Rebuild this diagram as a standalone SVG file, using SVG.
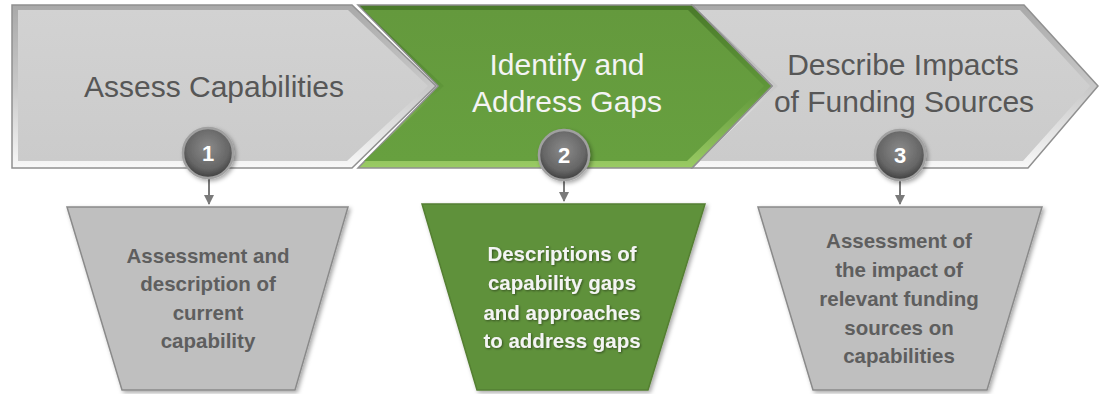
<svg xmlns="http://www.w3.org/2000/svg" width="1099" height="394" viewBox="0 0 1099 394">
  <defs>
    <linearGradient id="grayBevel" x1="0" y1="0" x2="0" y2="1">
      <stop offset="0" stop-color="#a9a9a9"/>
      <stop offset="0.5" stop-color="#c8c8c8"/>
      <stop offset="1" stop-color="#f8f8f8"/>
    </linearGradient>
    <linearGradient id="grayFace" x1="0" y1="0" x2="0" y2="1">
      <stop offset="0" stop-color="#d2d2d2"/>
      <stop offset="1" stop-color="#cbcbcb"/>
    </linearGradient>
    <linearGradient id="greenBevel" x1="0" y1="0" x2="0" y2="1">
      <stop offset="0" stop-color="#4a7a2a"/>
      <stop offset="0.5" stop-color="#5f9639"/>
      <stop offset="1" stop-color="#9acb64"/>
    </linearGradient>
    <linearGradient id="greenFace" x1="0" y1="0" x2="0" y2="1">
      <stop offset="0" stop-color="#64993d"/>
      <stop offset="1" stop-color="#67a03f"/>
    </linearGradient>
    <radialGradient id="ball" cx="0.5" cy="0.4" r="0.6">
      <stop offset="0" stop-color="#8a8a8a"/>
      <stop offset="0.7" stop-color="#666666"/>
      <stop offset="1" stop-color="#3e3e3e"/>
    </radialGradient>
    <filter id="shadow" x="-10%" y="-10%" width="125%" height="125%">
      <feDropShadow dx="2" dy="2" stdDeviation="2" flood-color="#000" flood-opacity="0.35"/>
    </filter>
    <filter id="tshadow" x="-10%" y="-20%" width="120%" height="150%">
      <feDropShadow dx="1" dy="1" stdDeviation="0.8" flood-color="#000" flood-opacity="0.45"/>
    </filter>
    <marker id="arrow" viewBox="0 0 10 10" refX="9" refY="5" markerWidth="5" markerHeight="5" orient="auto" markerUnits="strokeWidth">
      <path d="M0,0 L10,5 L0,10 z" fill="#7a7a7a"/>
    </marker>
  </defs>
  <style>
    .title { font-family: "Liberation Sans", Arial, sans-serif; font-size: 30px; text-anchor: middle; }
    .gtitle { fill: #575757; }
    .wtitle { fill: #f4f4f4; }
    .body { font-family: "Liberation Sans", Arial, sans-serif; font-size: 20.5px; font-weight: bold; text-anchor: middle; }
    .gbody { fill: #5e5e5e; }
    .wbody { fill: #f4f4f4; }
    .num { font-family: "Liberation Sans", Arial, sans-serif; font-size: 22px; font-weight: bold; fill: #ffffff; text-anchor: middle; }
    .ring { fill: url(#ball); stroke: #a0a0a0; stroke-width: 2.5; }
    .conn { stroke: #7a7a7a; stroke-width: 2; fill: none; }
    .outline { stroke: #909090; stroke-width: 1.5; }
  </style>

  <g id="step3">
    <polygon class="outline" points="692,5 1024,5 1098,86 1028,168 692,168 772,86" fill="url(#grayBevel)"/>
    <polygon points="698,10 1020,10 1090,86 1023,161 698,161 778,86" fill="url(#grayFace)"/>
    <text class="title gtitle" x="903" y="75">Describe Impacts</text>
    <text class="title gtitle" x="904" y="112">of Funding Sources</text>
  </g>

  <g id="step2">
    <polygon class="outline" points="358,5 692,5 772,86 692,168 358,168 438,86" fill="url(#greenBevel)"/>
    <polygon points="364,10 688,10 764,86 687,161 364,161 444,86" fill="url(#greenFace)"/>
    <text class="title wtitle" x="567" y="75">Identify and</text>
    <text class="title wtitle" x="567" y="112">Address Gaps</text>
  </g>

  <g id="step1">
    <polygon class="outline" points="12,5 352,5 436,86 352,168 12,168" fill="url(#grayBevel)"/>
    <polygon points="18,10 348,10 428,86 347,161 18,161" fill="url(#grayFace)"/>
    <text class="title gtitle" x="214" y="97">Assess Capabilities</text>
  </g>

  <g id="connectors">
    <line class="conn" x1="209" y1="179" x2="209" y2="204" marker-end="url(#arrow)"/>
    <line class="conn" x1="564" y1="180" x2="564" y2="201" marker-end="url(#arrow)"/>
    <line class="conn" x1="900" y1="180" x2="900" y2="204" marker-end="url(#arrow)"/>
  </g>

  <g id="badge1">
    <circle class="ring" cx="208" cy="153" r="25" filter="url(#shadow)"/>
    <text class="num" x="208" y="161">1</text>
  </g>
  <g id="badge2">
    <circle class="ring" cx="564" cy="155" r="25" filter="url(#shadow)"/>
    <text class="num" x="564" y="163">2</text>
  </g>
  <g id="badge3">
    <circle class="ring" cx="900" cy="155" r="25" filter="url(#shadow)"/>
    <text class="num" x="900" y="163">3</text>
  </g>

  <g id="output1">
    <polygon points="67,207 348,207 295,390 122,390" fill="#bfbfbf" stroke="#8a8a8a" stroke-width="1.5" filter="url(#shadow)"/>
    <text class="body gbody" x="208" y="263">Assessment and</text>
    <text class="body gbody" x="208" y="291">description of</text>
    <text class="body gbody" x="208" y="320">current</text>
    <text class="body gbody" x="208" y="348">capability</text>
  </g>

  <g id="output2">
    <polygon points="422,204 705,204 648,390 477,390" fill="#5e913a" stroke="#557f33" stroke-width="1.5" filter="url(#shadow)"/>
    <g filter="url(#tshadow)">
      <text class="body wbody" x="562" y="261">Descriptions of</text>
      <text class="body wbody" x="562" y="290">capability gaps</text>
      <text class="body wbody" x="562" y="320">and approaches</text>
      <text class="body wbody" x="562" y="348">to address gaps</text>
    </g>
  </g>

  <g id="output3">
    <polygon points="758,207 1042,207 987,390 813,390" fill="#bfbfbf" stroke="#8a8a8a" stroke-width="1.5" filter="url(#shadow)"/>
    <text class="body gbody" x="899" y="248">Assessment of</text>
    <text class="body gbody" x="899" y="277">the impact of</text>
    <text class="body gbody" x="899" y="306">relevant funding</text>
    <text class="body gbody" x="899" y="335">sources on</text>
    <text class="body gbody" x="899" y="363">capabilities</text>
  </g>
</svg>
